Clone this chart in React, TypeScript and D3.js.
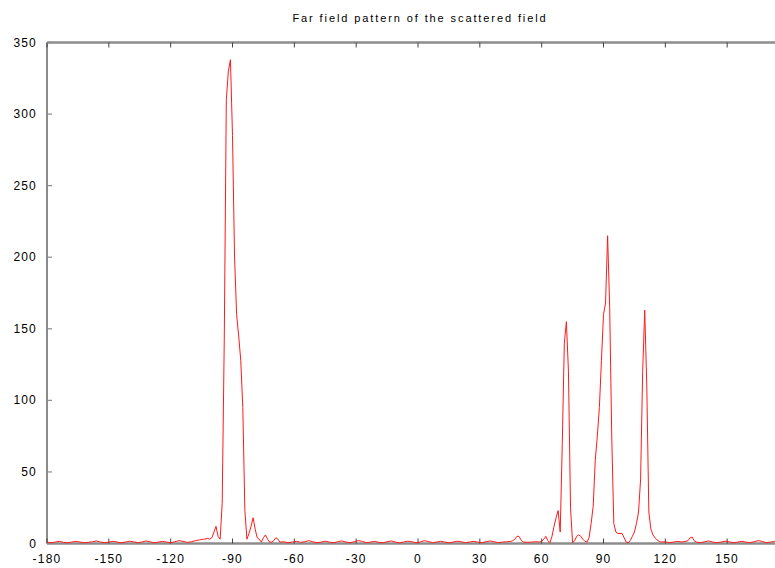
import React from "react";
import * as d3 from "d3";

const title = "Far field pattern of the scattered field";
const xTicks = [-180, -150, -120, -90, -60, -30, 0, 30, 60, 90, 120, 150, 180];
const xTickLabels = [-180, -150, -120, -90, -60, -30, 0, 30, 60, 90, 120, 150];
const yTicks = [0, 50, 100, 150, 200, 250, 300, 350];

// [angle in degrees, magnitude]
const baselineLeft: [number, number][] = [
  [-180, 1], [-178, 0.5], [-176, 1], [-174, 1.5], [-172, 0.8], [-170, 0.5], [-168, 1], [-166, 1.5],
  [-164, 1], [-162, 0.5], [-160, 0.8], [-158, 1.2], [-156, 1.8], [-154, 1], [-152, 0.6], [-150, 1],
  [-148, 1.5], [-146, 1], [-144, 0.5], [-142, 1], [-140, 1.6], [-138, 1.2], [-136, 0.6], [-134, 1],
  [-132, 1.8], [-130, 1.2], [-128, 0.5], [-126, 1], [-124, 1.5], [-122, 1], [-120, 0.6], [-118, 1.2],
  [-116, 2], [-114, 1.5], [-112, 0.8], [-110, 1.2], [-108, 2], [-106, 2.5], [-104, 3], [-102, 3.5],
  [-101, 3], [-100, 4],
];
const peakLeft: [number, number][] = [
  [-99, 8], [-98, 12], [-97, 5], [-96, 3], [-95, 28], [-94, 142], [-93, 310], [-92, 330], [-91, 338],
  [-90, 285], [-89, 200], [-88, 160], [-87, 145], [-86, 128], [-85, 95], [-84, 23], [-83, 3],
  [-82, 7], [-81, 12], [-80, 18], [-79, 10], [-78, 4], [-77, 3], [-76, 1], [-75, 4], [-74, 6],
  [-73, 3], [-72, 1], [-71, 1], [-70, 2], [-69, 4], [-68, 3], [-67, 1],
];
const baselineMid: [number, number][] = [
  [-65, 1.2], [-63, 0.5], [-61, 1], [-59, 1.5], [-57, 0.8], [-55, 1.2], [-53, 2], [-51, 1.2],
  [-49, 0.5], [-47, 1], [-45, 1.6], [-43, 1], [-41, 0.5], [-39, 1.2], [-37, 1.8], [-35, 1],
  [-33, 0.6], [-31, 1.2], [-29, 2], [-27, 1.5], [-25, 0.6], [-23, 1], [-21, 1.5], [-19, 0.8],
  [-17, 0.5], [-15, 1.2], [-13, 1.8], [-11, 1], [-9, 0.5], [-7, 1], [-5, 1.6], [-3, 1.2],
  [-1, 0.6], [1, 1], [3, 2], [5, 1.4], [7, 0.6], [9, 1], [11, 1.5], [13, 1], [15, 0.5],
  [17, 1], [19, 1.6], [21, 1.2], [23, 0.6], [25, 1], [27, 1.5], [29, 1], [31, 0.6], [33, 1.2],
  [35, 1.8], [37, 1.2], [39, 0.6], [41, 1], [43, 1.2], [45, 1.5],
];
const peaksRight: [number, number][] = [
  [46, 2], [47, 3], [48, 5], [49, 5], [50, 2.5], [51, 1], [53, 0.8], [55, 1], [57, 1.2],
  [59, 1], [60, 1.5], [61, 3], [62, 5], [63, 2], [64, 0.5], [65, 5], [66, 12], [67, 18],
  [68, 23], [69, 8], [70, 70], [71, 140], [72, 155], [73, 120], [74, 25], [75, 0.5], [76, 2],
  [77, 5], [78, 6], [79, 5], [80, 3], [81, 1.5], [82, 1], [83, 4], [84, 14], [85, 26],
  [86, 58], [87, 75], [88, 95], [89, 128], [90, 160], [91, 168], [92, 215], [93, 165],
  [94, 75], [95, 14], [96, 8], [97, 7], [98, 7], [99, 7], [100, 4], [101, 1], [102, 0.5],
  [103, 2], [104, 5], [105, 8], [106, 14], [107, 22], [108, 45], [109, 120], [110, 163],
  [111, 110], [112, 22], [113, 10], [114, 6], [115, 4], [116, 2.5], [117, 1.5], [118, 1],
];
const baselineRight: [number, number][] = [
  [120, 1.2], [122, 0.6], [124, 1], [126, 1.5], [128, 1], [130, 1.5], [131, 2], [132, 4],
  [133, 4.5], [134, 2], [135, 1], [137, 0.6], [139, 1.2], [141, 1.8], [143, 1], [145, 0.6],
  [147, 1], [149, 1.6], [151, 1.2], [153, 0.5], [155, 1], [157, 1.5], [159, 1], [161, 0.6],
  [163, 1.2], [165, 2], [167, 1.4], [169, 0.6], [171, 1], [173, 1.5], [175, 1], [177, 0.6],
  [179, 1], [180, 1],
];

const W = 775;
const H = 568;
const margin = { left: 47, right: 789, top: 42.5, bottom: 543.5 };

export default function App() {
  const data = [...baselineLeft, ...peakLeft, ...baselineMid, ...peaksRight, ...baselineRight];
  const x = d3.scaleLinear().domain([-180, 180]).range([margin.left, margin.right]);
  const y = d3.scaleLinear().domain([0, 350]).range([margin.bottom, margin.top]);
  const line = d3
    .line<[number, number]>()
    .x((d) => x(d[0]))
    .y((d) => y(d[1]));
  const axisColor = "#8c8c8c";
  const tickColor = "#444";
  const font = "'Liberation Sans', Arial, Helvetica, sans-serif";
  return (
    <svg
      width={W}
      height={H}
      style={{ position: "absolute", left: 0, top: 0, background: "#fff" }}
    >
      <rect x={0} y={0} width={W} height={H} fill="#fff" />
      <text
        x={420}
        y={22}
        textAnchor="middle"
        fontFamily={font}
        fontSize={11}
        letterSpacing={1.9}
        fill="#000"
      >
        {title}
      </text>
      {/* frame */}
      <line x1={margin.left} x2={margin.right} y1={margin.top} y2={margin.top} stroke={axisColor} strokeWidth={2.5} />
      <line x1={margin.left} x2={margin.right} y1={margin.bottom} y2={margin.bottom} stroke={axisColor} strokeWidth={2.5} />
      <line x1={margin.left} x2={margin.left} y1={margin.top} y2={margin.bottom} stroke={axisColor} strokeWidth={2} />
      <line x1={margin.right} x2={margin.right} y1={margin.top} y2={margin.bottom} stroke={axisColor} strokeWidth={2} />
      {/* x ticks */}
      {xTicks.map((t) => (
        <g key={"x" + t}>
          <line x1={x(t)} x2={x(t)} y1={margin.bottom} y2={margin.bottom - 5} stroke={tickColor} strokeWidth={1} />
          <line x1={x(t)} x2={x(t)} y1={margin.top} y2={margin.top + 5} stroke={tickColor} strokeWidth={1} />
        </g>
      ))}
      {xTickLabels.map((t) => (
        <text
          key={"xl" + t}
          x={x(t)}
          y={563}
          textAnchor="middle"
          fontFamily={font}
          fontSize={12}
          letterSpacing={1.2}
          fill="#000"
        >
          {t}
        </text>
      ))}
      {/* y ticks */}
      {yTicks.map((t) => (
        <g key={"y" + t}>
          <line x1={margin.left} x2={margin.left + 5} y1={y(t)} y2={y(t)} stroke={axisColor} strokeWidth={1.2} />
          <line x1={margin.right} x2={margin.right - 5} y1={y(t)} y2={y(t)} stroke={axisColor} strokeWidth={1.2} />
          <text
            x={37}
            y={y(t) + 4}
            textAnchor="end"
            fontFamily={font}
            fontSize={12}
            letterSpacing={1.2}
            fill="#000"
          >
            {t}
          </text>
        </g>
      ))}
      <path d={line(data) || ""} fill="none" stroke="#ff1a1a" strokeWidth={1} strokeLinejoin="round" />
    </svg>
  );
}
